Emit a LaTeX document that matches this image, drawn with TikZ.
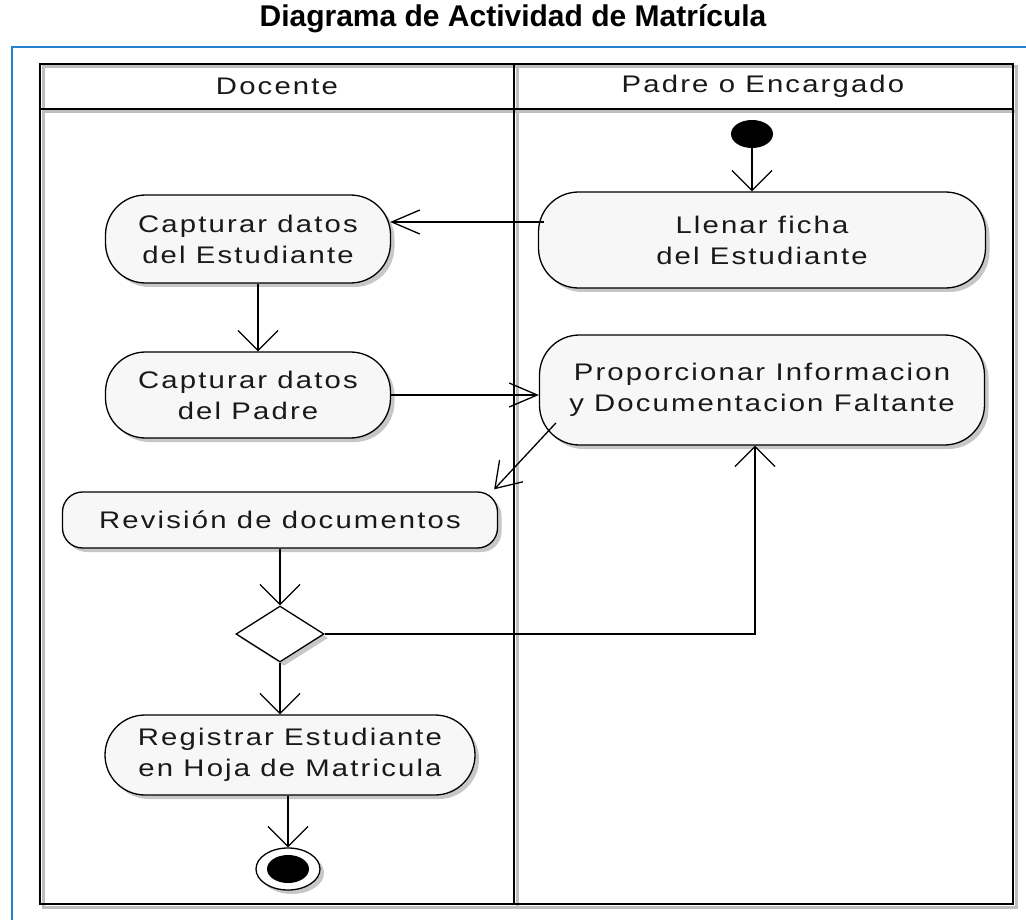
\documentclass[tikz,border=0pt]{standalone}
\usepackage{fontspec}
\setmainfont{Liberation Sans}
\newfontfamily\diagfont[FakeStretch=1.22,LetterSpace=9]{Liberation Sans}
\usetikzlibrary{arrows.meta,shapes.geometric,shadows,calc}

\definecolor{frameblue}{RGB}{38,128,210}
\definecolor{actfill}{RGB}{247,247,247}
\definecolor{inkgray}{RGB}{25,25,25}

\tikzset{
  lbl/.style={font=\diagfont\fontsize{24}{31}\selectfont, text=inkgray, align=center, inner sep=0pt},
  softshadow/.style={drop shadow={shadow xshift=4pt, shadow yshift=-4pt, opacity=0.22, fill=black}},
  act/.style={lbl, draw=black, line width=1.3pt, fill=actfill, rounded corners=40pt, softshadow},
  actflat/.style={act, rounded corners=20pt},
  decision/.style={diamond, draw=black, line width=1.3pt, fill=white, inner sep=0pt, softshadow},
  initnode/.style={ellipse, fill=black, inner sep=0pt, minimum width=42pt, minimum height=28pt},
  flow/.style={line width=1.3pt, draw=black},
  flowh/.style={flow, -{Straight Barb[length=28pt,width=24pt]}},
  flowv/.style={flow, -{Straight Barb[length=20pt,width=40pt]}},
  flowd/.style={flow, -{Straight Barb[length=24pt,width=32pt]}},
  lane/.style={line width=2pt, draw=black},
  laneshadow/.style={line width=3pt, draw=black!25},
}

\begin{document}
\begin{tikzpicture}[x=1pt,y=-1pt]
  \useasboundingbox (0,0) rectangle (1026,920);
  \fill[white] (0,0) rectangle (1026,920);

  % title and blue frame
  \node[font=\bfseries\fontsize{30}{34}\selectfont, inner sep=0pt] (title) at (513,19) {Diagrama de Actividad de Matrícula};
  \draw[frameblue, line width=2pt] (12,921) -- (12,47) -- (1027,47);

  % swimlanes: shadow first, then the frame
  \begin{scope}[shift={(3,3)}]
    \draw[laneshadow] (40,64) rectangle (1013,904);
    \draw[laneshadow] (40,109) -- (1013,109);
    \draw[laneshadow] (514,64) -- (514,904);
  \end{scope}
  \draw[lane] (40,64) rectangle (1013,904);
  \draw[lane] (40,109) -- (1013,109);
  \draw[lane] (514,64) -- (514,904);

  \node[lbl] (hdoc) at (277,86) {Docente};
  \node[lbl] (hpad) at (763,86) {Padre o Encargado};

  % activities
  \node[initnode] (ini) at (752,134) {};
  \node[act, minimum width=447pt, minimum height=96pt] (llenar) at (762,240) {Llenar ficha\\del Estudiante};
  \node[act, minimum width=285pt, minimum height=88pt] (capest) at (248,239) {Capturar datos\\del Estudiante};
  \node[act, minimum width=285pt, minimum height=86pt] (cappad) at (248,395) {Capturar datos\\del Padre};
  \node[act, minimum width=445pt, minimum height=110pt] (prop) at (762,390) {Proporcionar Informacion\\y Documentacion Faltante};
  \node[actflat, minimum width=435pt, minimum height=56pt] (rev) at (280,520) {Revisión de documentos};
  \node[decision, minimum width=88pt, minimum height=56pt] (dec) at (280,634) {};
  \node[act, minimum width=370pt, minimum height=80pt] (reg) at (290,755) {Registrar Estudiante\\en Hoja de Matricula};
  \node[ellipse, draw=black, line width=1.3pt, fill=white, inner sep=0pt, minimum width=64pt, minimum height=42pt, softshadow] (fin) at (288,869) {};
  \node[initnode] (fincore) at (fin) {};

  % control flow
  \draw[flowv] (ini.south) -- (ini.south |- llenar.north);
  \draw[flowh] ([xshift=6pt,yshift=18pt]llenar.west) -- ([xshift=-1pt,yshift=17pt]capest.east);
  \draw[flowv] ([xshift=10pt]capest.south) -- ([xshift=10pt]cappad.north);
  \draw[flowh] (cappad.east) -- (cappad.east -| prop.west);
  \draw[flowd] ([xshift=17pt,yshift=-33pt]prop.west) -- ([xshift=-4pt,yshift=2pt]rev.north east);
  \draw[flowv] (rev.south) -- (dec.north);
  \draw[flowv] (dec.east) -| ([xshift=-7pt]prop.south);
  \draw[flowv] (dec.south) -- (dec.south |- reg.north);
  \draw[flowv] (fin.north |- reg.south) -- (fin.north);
\end{tikzpicture}
\end{document}
